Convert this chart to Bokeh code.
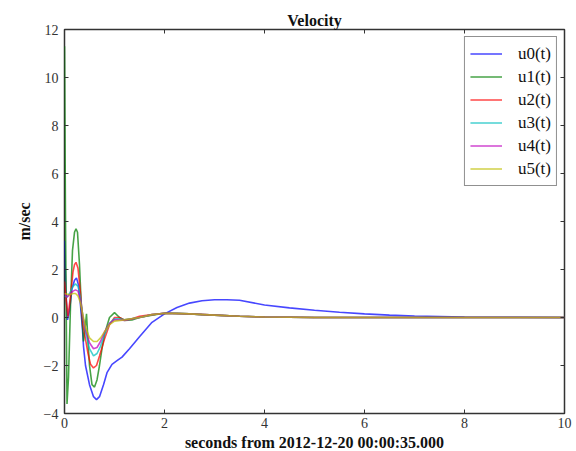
from bokeh.plotting import figure
from bokeh.models import LinearAxis, SingleIntervalTicker, Legend, LegendItem, CustomJSTickFormatter
from bokeh.embed import file_html
from bokeh.resources import INLINE

# ---- data ----
t0 = [0, 0.03, 0.06, 0.1, 0.15, 0.2, 0.24, 0.28, 0.32, 0.36, 0.38, 0.42, 0.5, 0.58, 0.64,
      0.7, 0.78, 0.85, 0.95, 1.05, 1.15, 1.3, 1.5, 1.75, 2.0, 2.25, 2.5, 2.75, 3.0, 3.25,
      3.5, 4.0, 4.5, 5.0, 5.5, 6.0, 6.5, 7.0, 7.5, 8.0, 9.0, 10.0]
u0 = [3.2, 1.0, -0.1, 0.3, 1.2, 1.55, 1.65, 1.35, 0.5, -0.5, -1.2, -2.0, -2.8, -3.3, -3.42,
      -3.3, -2.8, -2.3, -1.95, -1.8, -1.65, -1.3, -0.8, -0.2, 0.15, 0.42, 0.6, 0.7, 0.74, 0.74,
      0.72, 0.52, 0.4, 0.3, 0.22, 0.15, 0.1, 0.06, 0.04, 0.02, 0.01, 0.0]

t1 = [0, 0.02, 0.05, 0.08, 0.12, 0.16, 0.2, 0.23, 0.26, 0.3, 0.34, 0.38, 0.41, 0.44, 0.47, 0.5,
      0.55, 0.6, 0.65, 0.7, 0.75, 0.8, 0.9, 1.0, 1.1, 1.2, 1.35, 1.5, 1.75, 2.0, 2.25, 2.5,
      2.75, 3.0, 3.5, 4.0, 4.5, 5.0, 6.0, 8.0, 10.0]
u1 = [11.3, 4.0, -3.6, -2.5, 0.5, 2.8, 3.55, 3.7, 3.55, 2.2, 0.3, -1.0, -0.5, 0.15, -1.0, -2.0,
      -2.8, -2.9, -2.6, -2.0, -1.3, -0.7, 0.0, 0.2, 0.0, -0.12, -0.1, 0.0, 0.1, 0.18, 0.17, 0.15,
      0.12, 0.1, 0.05, 0.02, 0.01, 0.0, 0.0, 0.0, 0.0]

t2 = [0, 0.03, 0.07, 0.12, 0.17, 0.2, 0.23, 0.27, 0.32, 0.37, 0.42, 0.47, 0.52, 0.58, 0.64, 0.7,
      0.8, 0.9, 1.0, 1.1, 1.2, 1.35, 1.5, 1.75, 2.0, 2.5, 3.0, 3.5, 4.0, 5.0, 6.0, 8.0, 10.0]
u2 = [1.5, 0.8, 0.05, 0.9, 1.9, 2.2, 2.3, 2.05, 1.0, -0.3, -0.9, -1.5, -1.95, -2.1, -2.0, -1.6,
      -0.9, -0.3, 0.0, 0.0, -0.1, -0.05, 0.05, 0.12, 0.18, 0.15, 0.1, 0.05, 0.02, 0.0, 0.0, 0.0, 0.0]

t3 = [0, 0.05, 0.1, 0.17, 0.22, 0.27, 0.32, 0.37, 0.42, 0.5, 0.58, 0.65, 0.72, 0.8, 0.9,
      1.0, 1.1, 1.2, 1.5, 1.75, 2.0, 2.5, 3.0, 3.5, 4.0, 5.0, 6.0, 8.0, 10.0]
u3 = [0.9, 0.85, 1.0, 1.3, 1.4, 1.3, 0.8, 0.0, -0.6, -1.3, -1.6, -1.5, -1.2, -0.7, -0.25,
      -0.05, -0.05, -0.1, 0.0, 0.12, 0.18, 0.15, 0.1, 0.05, 0.02, 0.0, 0.0, 0.0, 0.0]

t4 = [0, 0.05, 0.1, 0.17, 0.22, 0.27, 0.32, 0.37, 0.42, 0.5, 0.58, 0.65, 0.72, 0.8, 0.9,
      1.0, 1.1, 1.2, 1.5, 1.75, 2.0, 2.5, 3.0, 3.5, 4.0, 5.0, 6.0, 8.0, 10.0]
u4 = [1.0, 0.85, 0.95, 1.1, 1.15, 1.1, 0.7, 0.0, -0.5, -1.05, -1.3, -1.25, -1.0, -0.6, -0.25,
      -0.1, -0.1, -0.12, 0.0, 0.12, 0.18, 0.15, 0.1, 0.05, 0.02, 0.0, 0.0, 0.0, 0.0]

t5 = [0, 0.1, 0.17, 0.22, 0.27, 0.32, 0.37, 0.42, 0.5, 0.58, 0.65, 0.72, 0.8, 0.9, 1.0,
      1.2, 1.5, 1.75, 2.0, 2.5, 3.0, 3.5, 4.0, 5.0, 6.0, 8.0, 10.0]
u5 = [1.0, 0.95, 1.0, 1.0, 0.9, 0.6, 0.1, -0.4, -0.85, -1.0, -1.0, -0.85, -0.6, -0.3, -0.15,
      -0.1, 0.0, 0.12, 0.18, 0.15, 0.1, 0.05, 0.02, 0.0, 0.0, 0.0, 0.0]

series_names = ["u0(t)", "u1(t)", "u2(t)", "u3(t)", "u4(t)", "u5(t)"]
series_colors = ["#0000ff", "#008000", "#ff0000", "#00bfbf", "#bf00bf", "#bfbf00"]
x_ticks_interval = 2
y_ticks_interval = 2

FONT = "Liberation Serif"
FRAME = "#333333"

p = figure(frame_width=500, frame_height=384, x_range=(0, 10), y_range=(-4, 12),
           output_backend="svg", toolbar_location=None,
           min_border_left=64, min_border_right=12, min_border_top=29, min_border_bottom=38,
           title="Velocity")
p.background_fill_color = "white"
p.border_fill_color = "white"
p.outline_line_color = FRAME
p.outline_line_width = 1.5
p.xgrid.visible = False
p.ygrid.visible = False

p.title.align = "center"
p.title.text_font = FONT
p.title.text_font_size = "16px"
p.title.text_font_style = "bold"
p.title.text_color = "#111111"
p.title.standoff = 2

def style_axis(ax, labels=True):
    ax.axis_line_color = None
    ax.major_tick_in = 4
    ax.major_tick_out = 0
    ax.minor_tick_in = 0
    ax.minor_tick_out = 0
    ax.major_tick_line_color = FRAME
    ax.major_label_text_font = FONT
    ax.major_label_text_font_size = "14px"
    ax.major_label_text_color = "#333333"
    if not labels:
        ax.formatter = CustomJSTickFormatter(code="return ''")
        ax.major_label_standoff = 0

xa = p.xaxis[0]
ya = p.yaxis[0]
xa.ticker = SingleIntervalTicker(interval=x_ticks_interval)
ya.ticker = SingleIntervalTicker(interval=y_ticks_interval)
style_axis(xa)
style_axis(ya)
xa.major_label_standoff = 4
ya.major_label_standoff = 6
ya.major_label_overrides = {-4: "\u22124", -2: "\u22122"}
xa.axis_label = "seconds from 2012-12-20 00:00:35.000"
ya.axis_label = "m/sec"
for ax in (xa, ya):
    ax.axis_label_text_font = FONT
    ax.axis_label_text_font_size = "16px"
    ax.axis_label_text_font_style = "bold"
    ax.axis_label_text_color = "#111111"
xa.axis_label_standoff = 3
ya.axis_label_standoff = 8

top = LinearAxis(ticker=SingleIntervalTicker(interval=x_ticks_interval))
right = LinearAxis(ticker=SingleIntervalTicker(interval=y_ticks_interval))
style_axis(top, labels=False)
style_axis(right, labels=False)
p.add_layout(top, "above")
p.add_layout(right, "right")

ts = [t0, t1, t2, t3, t4, t5]
us = [u0, u1, u2, u3, u4, u5]
items = []
for t, u, name, c in zip(ts, us, series_names, series_colors):
    r = p.line(t, u, line_color=c, line_width=1.6, line_alpha=0.72)
    items.append(LegendItem(label=name, renderers=[r]))

legend = Legend(items=items, location="top_right")
legend.margin = 7
legend.padding = 5
legend.spacing = 0
legend.label_height = 23
legend.glyph_height = 23
legend.glyph_width = 32
legend.label_standoff = 16
legend.label_text_font = FONT
legend.label_text_font_size = "17px"
legend.label_text_color = "#111111"
legend.border_line_color = "#222222"
legend.border_line_width = 1.5
legend.background_fill_alpha = 1.0
p.add_layout(legend, "center")

open("out.html", "w").write(file_html(p, INLINE))
